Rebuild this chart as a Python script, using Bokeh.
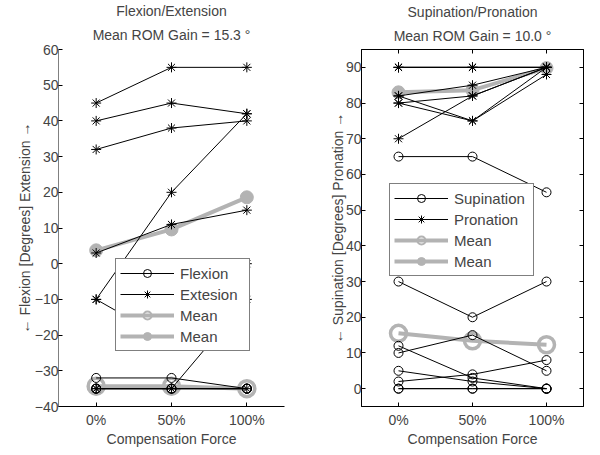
from bokeh.plotting import figure
from bokeh.models import Range1d, FixedTicker, LinearAxis, Legend, LegendItem, Title
from bokeh.layouts import row
from bokeh.embed import file_html
from bokeh.resources import INLINE

FONT = "Liberation Sans"
LABEL_FONT = "'Liberation Sans', 'DejaVu Sans'"
GRAY = "#b3b3b3"

x_pos = [0, 1, 2]
x_labels = ["0%", "50%", "100%"]

# Flexion / Extension subjects (degrees)
fe_flexion = [
    [-32, -32, -35],
    [-35, -35, -35],
    [-35, -35, -35],
    [-35, -35, -35],
]
fe_extension = [
    [45, 55, 55],
    [40, 45, 42],
    [32, 38, 40],
    [3, 11, 15],
    [-10, 20, 42],
    [-10, -22, 0],
    [-35, -35, -10],
    [-35, -35, -35],
]
fe_flexion_mean = [-34.3, -34.3, -35.0]
fe_extension_mean = [3.75, 9.6, 18.6]

# Supination / Pronation subjects (degrees)
sp_supination = [
    [65, 65, 55],
    [30, 20, 30],
    [10, 15, 5],
    [12, 3, 0],
    [5, 2, 0],
    [2, 4, 8],
    [0, 0, 0],
    [0, 0, 0],
]
sp_pronation = [
    [90, 90, 90],
    [90, 90, 90],
    [90, 90, 90],
    [82, 85, 90],
    [82, 75, 90],
    [80, 82, 90],
    [80, 75, 88],
    [70, 82, 90],
]
sp_supination_mean = [15.5, 13.4, 12.3]
sp_pronation_mean = [83.0, 83.6, 89.8]


def base_fig(frame_w, ylo, yhi, yticks, ylabel, title, subtitle, border_left, border_right, box):
    p = figure(frame_width=frame_w, frame_height=357, output_backend="svg", toolbar_location=None,
               x_range=Range1d(-0.5, 2.5), y_range=Range1d(ylo, yhi),
               min_border_left=border_left, min_border_right=border_right,
               min_border_top=40, min_border_bottom=35)
    p.grid.visible = False
    p.background_fill_color = "white"
    p.border_fill_color = "white"
    p.outline_line_color = "black" if box else None

    xa = p.below[0]
    ya = p.left[0]
    xa.ticker = FixedTicker(ticks=x_pos)
    xa.major_label_overrides = {i: s for i, s in zip(x_pos, x_labels)}
    xa.axis_label = "Compensation Force"
    ya.ticker = FixedTicker(ticks=yticks)
    ya.axis_label = ylabel
    for ax in (xa, ya):
        ax.major_tick_in = 4
        ax.major_tick_out = 0
        ax.minor_tick_line_color = None
        ax.major_label_text_font = FONT
        ax.major_label_text_font_size = "14px"
        ax.axis_label_text_font = LABEL_FONT
        ax.axis_label_text_font_size = "14px"
        ax.axis_label_text_font_style = "normal"
        ax.axis_line_color = "black"
        ax.major_tick_line_color = "black"
    xa.major_label_standoff = 5
    xa.axis_label_standoff = 0

    if box:
        ax_r = LinearAxis(ticker=FixedTicker(ticks=yticks), major_tick_in=4, major_tick_out=0,
                          minor_tick_line_color=None, major_label_text_font_size="1px",
                          major_label_text_color=None, major_label_standoff=0)
        ax_t = LinearAxis(ticker=FixedTicker(ticks=x_pos), major_tick_in=4, major_tick_out=0,
                          minor_tick_line_color=None, major_label_text_font_size="1px",
                          major_label_text_color=None, major_label_standoff=0)
        p.add_layout(ax_r, "right")
        p.add_layout(ax_t, "above")

    p.add_layout(Title(text=subtitle, align="center", text_font=FONT, text_font_size="14px",
                       text_font_style="normal", standoff=13 if not box else 12), "above")
    p.add_layout(Title(text=title, align="center", text_font=FONT, text_font_size="14px",
                       text_font_style="normal", standoff=0), "above")
    return p, ya


def draw(p, subj_a, marker_a, subj_b, marker_b, mean_a, mean_b, labels, loc, label_w):
    r_mean_a_l = p.line(x_pos, mean_a, line_color=GRAY, line_width=4)
    p.scatter(x_pos, mean_a, marker="circle", size=16, fill_color=None,
              line_color=GRAY, line_width=3.5)
    r_mean_b_l = p.line(x_pos, mean_b, line_color=GRAY, line_width=4)
    r_mean_b_m = p.scatter(x_pos, mean_b, marker="circle", size=13, fill_color=GRAY,
                           line_color=GRAY, line_width=1)
    # hidden copy of the open mean markers, used only for a clearer legend symbol
    r_mean_a_leg = p.scatter(x_pos, mean_a, marker="circle", size=16, fill_color=None,
                             line_color=GRAY, line_width=2.2, visible=False)
    ra = []
    for s in subj_a:
        l = p.line(x_pos, s, line_color="black", line_width=1)
        m = p.scatter(x_pos, s, marker=marker_a, size=9 if marker_a == "circle" else 10,
                      fill_color=None, line_color="black", line_width=1)
        ra = ra or [l, m]
    rb = []
    for s in subj_b:
        l = p.line(x_pos, s, line_color="black", line_width=1)
        m = p.scatter(x_pos, s, marker=marker_b, size=9 if marker_b == "circle" else 10,
                      fill_color=None, line_color="black", line_width=1)
        rb = rb or [l, m]
    items = [
        LegendItem(label=labels[0], renderers=ra),
        LegendItem(label=labels[1], renderers=rb),
        LegendItem(label="Mean", renderers=[r_mean_a_l, r_mean_a_leg]),
        LegendItem(label="Mean", renderers=[r_mean_b_l, r_mean_b_m]),
    ]
    leg = Legend(items=items, location=loc, label_text_font=FONT, label_text_font_size="15px",
                 glyph_width=54, glyph_height=20, label_height=20, label_width=label_w,
                 padding=4, spacing=1, margin=0, label_standoff=6,
                 border_line_color="black", border_line_width=1, background_fill_alpha=1)
    p.add_layout(leg, "center")


p1, ya1 = base_fig(226, -40, 60, list(range(-40, 61, 10)), "\u2190 Flexion [Degrees] Extension \u2192",
                   "Flexion/Extension", "Mean ROM Gain = 15.3 \u00b0", 58, 35, False)
ya1.axis_line_color = "#808080"
ya1.major_label_standoff = 0
ya1.axis_label_standoff = -1
draw(p1, fe_flexion, "circle", fe_extension, "asterisk", fe_flexion_mean, fe_extension_mean,
     ["Flexion", "Extesion"], (57, 55), 65)

p2, ya2 = base_fig(222, -5, 95, list(range(0, 91, 10)), "\u2190 Supination [Degrees] Pronation \u2192",
                   "Supination/Pronation", "Mean ROM Gain = 10.0 \u00b0", 42, 1, True)
ya2.major_label_standoff = 0
ya2.axis_label_standoff = -3
draw(p2, sp_supination, "circle", sp_pronation, "asterisk", sp_supination_mean, sp_pronation_mean,
     ["Supination", "Pronation"], (28, 130), 75)

layout = row(p1, p2)
open("out.html", "w").write(file_html(layout, INLINE))
